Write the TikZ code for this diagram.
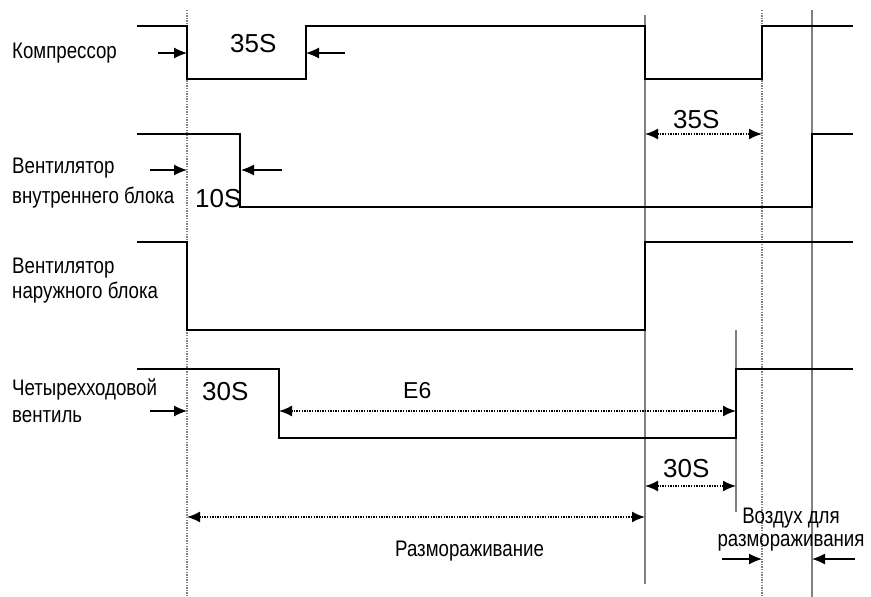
\documentclass[tikz,border=0pt]{standalone}
\usepackage{fontspec}
\setmainfont{Liberation Sans}
\newfontfamily\narrowfont{Liberation Sans}[FakeStretch=0.83]
\usetikzlibrary{arrows.meta}
\newcommand{\lblfont}{\narrowfont\fontsize{22.5}{24}\selectfont}
\newcommand{\numfont}{\fontsize{26}{28}\selectfont}
\begin{document}
\begin{tikzpicture}[x=1pt,y=-1pt,>={Latex[length=13pt,width=11pt]},
    sig/.style={line width=2pt},
    tline/.style={gray,line width=1.4pt},
    tdot/.style={gray,line width=1.6pt,dash pattern=on 1.4pt off 1.2pt},
    span/.style={<->,line width=1.6pt,dash pattern=on 1.4pt off 1.2pt},
    push/.style={->,line width=1.2pt},
    lbl/.style={font=\lblfont,anchor=base west,inner sep=0pt},
    num/.style={font=\numfont,anchor=base west,inner sep=0pt}]
  \useasboundingbox (0,0) rectangle (871,597);
  % time marks
  \draw[tdot] (187,10) -- (187,597);
  \draw[tdot] (762,10) -- (762,597);
  \draw[tline] (645,15) -- (645,584);
  \draw[tline] (812,10) -- (812,597);
  \draw[tline] (736,330) -- (736,512);
  % compressor
  \node[lbl] (comp) at (12,58) {Компрессор};
  \draw[sig] (137,26) -- (187,26) -- (187,79) -- (306,79) -- (306,26)
    -- (645,26) -- (645,79) -- (762,79) -- (762,26) -- (853,26);
  \node[num] (t35a) at (230,52) {35S};
  \draw[push] (158,53) -- (187,53);
  \draw[push] (345,53) -- (306,53);
  % indoor fan
  \node[lbl] (fanin1) at (12,173) {Вентилятор};
  \node[lbl] (fanin2) at (12,203) {внутреннего блока};
  \draw[sig] (137,134) -- (240,134) -- (240,207) -- (812,207) -- (812,134)
    -- (853,134);
  \node[num] (t10) at (195,207) {10S};
  \draw[push] (150,170) -- (187,170);
  \draw[push] (282,170) -- (241,170);
  \draw[span] (645,134) -- (762,134);
  \node[num] (t35b) at (673,128) {35S};
  % outdoor fan
  \node[lbl] (fanout1) at (12,273) {Вентилятор};
  \node[lbl] (fanout2) at (12,298) {наружного блока};
  \draw[sig] (137,242) -- (187,242) -- (187,330) -- (645,330) -- (645,242)
    -- (853,242);
  % four-way valve
  \node[lbl] (valve1) at (12,395) {Четырехходовой};
  \node[lbl] (valve2) at (12,422) {вентиль};
  \draw[sig] (137,369) -- (279,369) -- (279,438) -- (736,438) -- (736,369)
    -- (853,369);
  \node[num] (t30a) at (202,400) {30S};
  \draw[push] (150,411) -- (187,411);
  \draw[span] (279,411) -- (736,411);
  \node[num,font=\fontsize{23}{26}\selectfont] (e6) at (403,398) {E6};
  \draw[span] (645,486) -- (736,486);
  \node[num] (t30b) at (663,477) {30S};
  % defrost
  \draw[span] (187,517) -- (645,517);
  \node[lbl] (defrost) at (395,556) {Размораживание};
  \node[lbl,anchor=base] (air1) at (791,523) {Воздух для};
  \node[lbl,anchor=base] (air2) at (791,546) {размораживания};
  \draw[push] (722,559) -- (762,559);
  \draw[push] (855,559) -- (812,559);
\end{tikzpicture}
\end{document}
